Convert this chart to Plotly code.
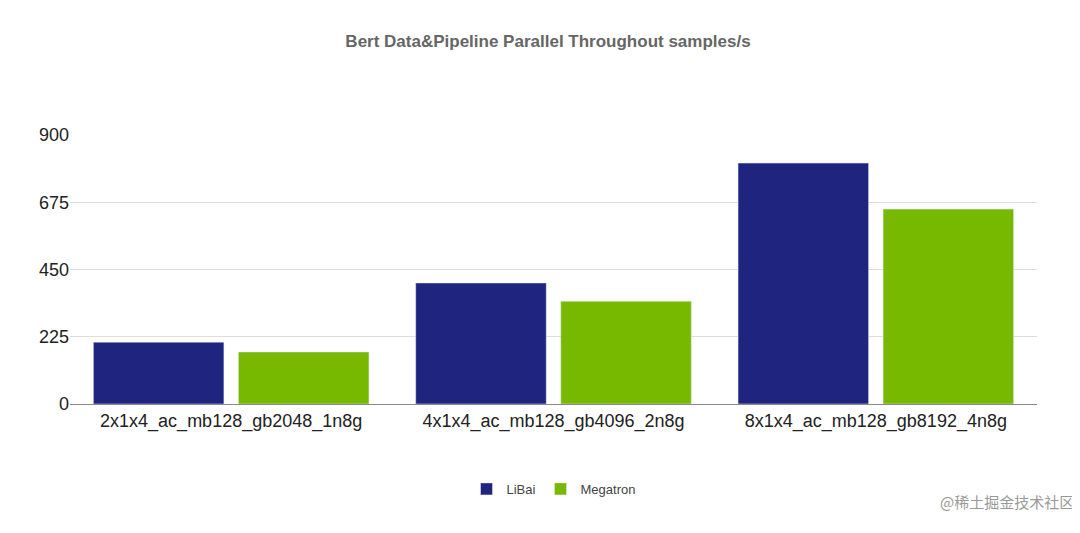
import plotly.graph_objects as go

categories = ["2x1x4_ac_mb128_gb2048_1n8g", "4x1x4_ac_mb128_gb4096_2n8g", "8x1x4_ac_mb128_gb8192_4n8g"]
libai = [207, 405, 806]
megatron = [174, 344, 652]
y_ticks = [0, 225, 450, 675, 900]

fig = go.Figure()
fig.add_trace(go.Bar(x=categories, y=libai, name="LiBai", marker_color="#1f247f"))
fig.add_trace(go.Bar(x=categories, y=megatron, name="Megatron", marker_color="#77b800"))

fig.update_layout(
    width=1080, height=533,
    title=dict(text="<b>Bert Data&Pipeline Parallel Throughout samples/s</b>",
               x=0.5, y=0.95, font=dict(size=17, color="#666666")),
    font=dict(family="Liberation Sans, Arial", color="#222222"),
    plot_bgcolor="white", paper_bgcolor="white",
    margin=dict(l=62, r=51, t=127, b=137),
    bargap=0.1, bargroupgap=0.1,
    xaxis=dict(tickfont=dict(size=18), showline=True, linecolor="#888888"),
    yaxis=dict(tickvals=y_ticks, range=[0, 900], tickfont=dict(size=18),
               gridcolor="#dddddd", zeroline=False),
    legend=dict(orientation="h", x=0.5, xanchor="center", y=-0.26,
                font=dict(size=13, color="#444444")),
)
fig.add_annotation(text="@稀土掘金技术社区", xref="paper", yref="paper", x=1.04, y=-0.41,
                   xanchor="right", showarrow=False,
                   font=dict(size=15, color="#999999", family="Noto Sans CJK SC"))

fig.write_html("out.html")
